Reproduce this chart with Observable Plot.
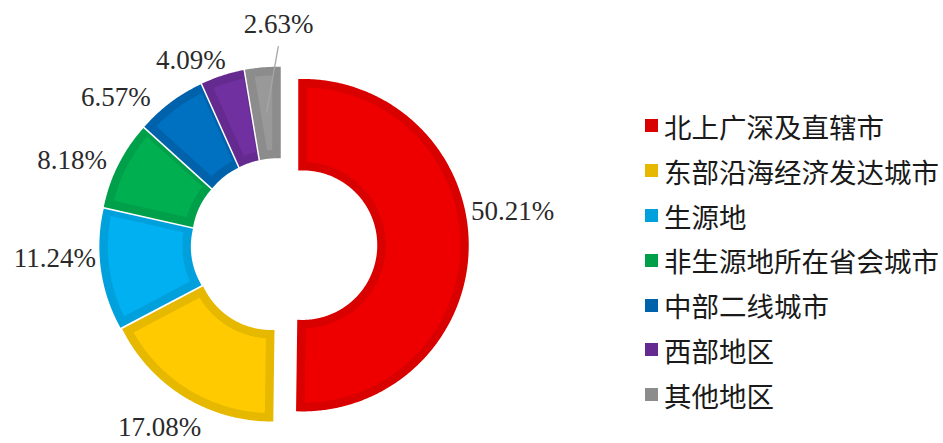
<!DOCTYPE html>
<html><head><meta charset="utf-8">
<script src="https://cdn.jsdelivr.net/npm/d3@7"></script>
<script src="https://cdn.jsdelivr.net/npm/@observablehq/plot@0.6"></script>
<style>
body{margin:0;background:#fff;}
#wrap{position:relative;width:943px;height:443px;overflow:hidden;background:#fff;}
#chart{position:absolute;left:0;top:0;}
#legend{position:absolute;left:645px;top:103.6px;}
.lg-swatches{margin:0 !important;}
.lg-swatch{height:44.8px;padding:0 !important;}
.lg-swatch > svg{margin-right:6px !important;}
.lg-swatch-label{overflow:visible !important;white-space:nowrap;font-family:"Noto Sans CJK SC",sans-serif;font-size:27.5px;color:#1a1a1a;}
</style></head><body>
<div id="wrap"><div id="chart"></div><div id="legend"></div></div>
<script>
// ---- data ----
const categories = ["北上广深及直辖市","东部沿海经济发达城市","生源地","非生源地所在省会城市","中部二线城市","西部地区","其他地区"];
const shares = [50.21, 17.08, 11.24, 8.18, 6.57, 4.09, 2.63];
const labels = ["50.21%","17.08%","11.24%","8.18%","6.57%","4.09%","2.63%"];

// ---- styles ----
const borderColors = ["#D90000","#E6B800","#00A0DC","#00A04A","#0062AA","#642A90","#8C8C8C"];
const fillColors   = ["#EE0000","#FFCB00","#00B0F0","#00B050","#0070C0","#7030A0","#999999"];

// ---- layout ----
const W = 640, H = 443, cx = 277, cy = 244.5;
const R = 162, r = 79, explodeFirst = 25, explodeOthers = 12, border = 8.5, gap = 1.5;
const labelTurn = [-9.6, 1.5, 4.4, -5.4, -12.3, -8.8, 5.3];
const labelDist = [213, 205, 211, 210, 207, 192, 209];

const rad = Math.PI / 180;
const pie = d3.pie().sort(null).value(d => d)(shares);
const slices = pie.map((p, i) => {
  const mid = (p.startAngle + p.endAngle) / 2;
  const e = i === 0 ? explodeFirst : explodeOthers;
  return {i, cat: categories[i], a0: p.startAngle, a1: p.endAngle, mid,
          ox: e * Math.sin(mid), oy: e * Math.cos(mid)};
});

function ring(s) {
  const pts = [];
  const n = a => Math.max(2, Math.ceil(Math.abs(a) / (Math.PI / 360)));
  const push = (rr, a) => pts.push({cat: s.cat, x: s.ox + rr * Math.sin(a), y: s.oy + rr * Math.cos(a)});
  let k = n(s.a1 - s.mid); for (let j = 0; j <= k; j++) push(R, s.mid + (s.a1 - s.mid) * j / k);
  k = n(s.a1 - s.a0);      for (let j = 0; j <= k; j++) push(r, s.a1 + (s.a0 - s.a1) * j / k);
  k = n(s.mid - s.a0);     for (let j = 0; j <= k; j++) push(R, s.a0 + (s.mid - s.a0) * j / k);
  return pts;
}

const marks = [];
slices.forEach(s => {
  const pts = ring(s);
  marks.push(Plot.line(pts, {x: "x", y: "y", fill: "white", stroke: "white",
    strokeWidth: border + 2 * gap, strokeLinejoin: "miter", strokeMiterlimit: 10}));
  marks.push(Plot.line(pts, {x: "x", y: "y", stroke: "cat", fill: fillColors[s.i],
    strokeWidth: border, strokeLinejoin: "miter", strokeMiterlimit: 10}));
});

const labelData = slices.map(s => {
  const a = s.mid + labelTurn[s.i] * rad, d = labelDist[s.i];
  return {text: labels[s.i], share: shares[s.i],
    x: s.ox + d * Math.sin(a), y: s.oy + d * Math.cos(a),
    lx1: s.ox + (R + r) / 2 * Math.sin(s.mid), ly1: s.oy + (R + r) / 2 * Math.cos(s.mid),
    lx2: s.ox + (d - 22) * Math.sin(a), ly2: s.oy + (d - 22) * Math.cos(a)};
});

marks.push(Plot.link(labelData.filter(d => d.share < 3), {x1: "lx1", y1: "ly1", x2: "lx2", y2: "ly2",
  stroke: "#A6A6A6", strokeWidth: 1.3}));
marks.push(Plot.text(labelData, {x: "x", y: "y", text: "text", fontSize: 27,
  fontFamily: "Liberation Serif", fill: "#2a2a2a", textAnchor: "middle", lineAnchor: "middle"}));

const chart = Plot.plot({
  width: W, height: H, margin: 0,
  x: {domain: [-cx, W - cx], axis: null},
  y: {domain: [-(H - cy), cy], axis: null},
  color: {domain: categories, range: borderColors},
  marks
});
document.getElementById("chart").appendChild(chart);

const legend = Plot.legend({color: {domain: categories, range: borderColors},
  legend: "swatches", columns: 1, swatchSize: 13, className: "lg"});
document.getElementById("legend").appendChild(legend);
</script>
</body></html>
